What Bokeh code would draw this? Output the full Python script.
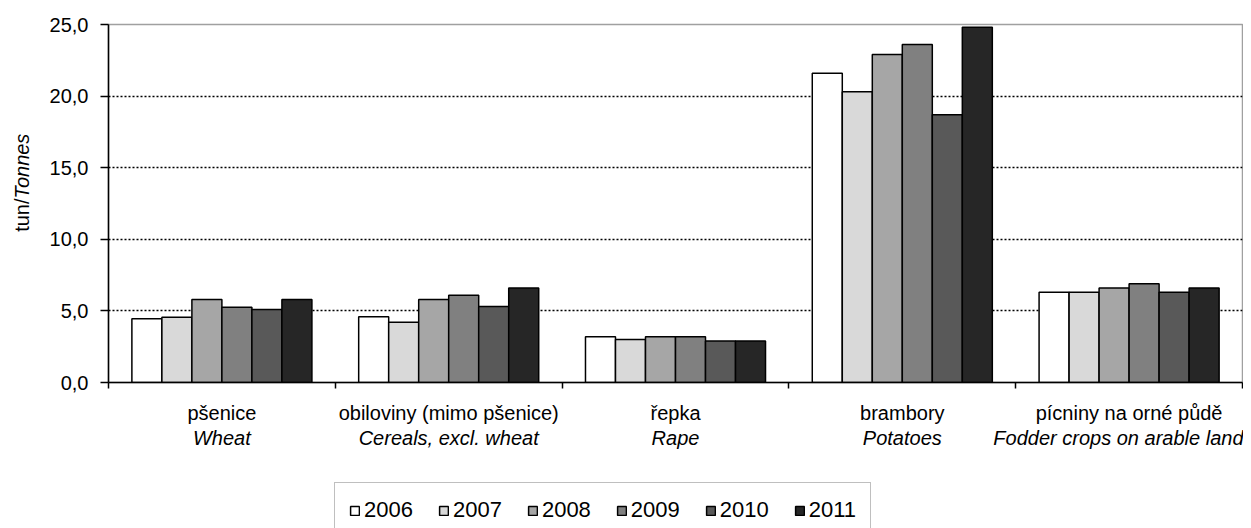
import math
from bokeh.plotting import figure
from bokeh.layouts import row, column
from bokeh.models import (ColumnDataSource, Range1d, FixedTicker, Legend, LinearAxis,
                          LegendItem, CustomJSTickFormatter)
from bokeh.core.properties import value
from bokeh.transform import dodge
from bokeh.embed import file_html
from bokeh.resources import INLINE

# ---- data ----
categories_cz = ["pšenice", "obiloviny (mimo pšenice)", "řepka", "brambory", "pícniny na orné půdě"]
categories_en = ["Wheat", "Cereals, excl. wheat", "Rape", "Potatoes", "Fodder crops on arable land"]
years = ["2006", "2007", "2008", "2009", "2010", "2011"]
y2006 = [4.45, 4.6, 3.2, 21.6, 6.3]
y2007 = [4.55, 4.2, 3.0, 20.3, 6.3]
y2008 = [5.8, 5.8, 3.2, 22.9, 6.6]
y2009 = [5.25, 6.1, 3.2, 23.6, 6.9]
y2010 = [5.1, 5.3, 2.9, 18.7, 6.3]
y2011 = [5.8, 6.6, 2.9, 24.8, 6.6]
y_ticks = [0, 5, 10, 15, 20, 25]
y_label_cz = "tun/"
y_label_en = "Tonnes"

series = [y2006, y2007, y2008, y2009, y2010, y2011]
colors = ["#ffffff", "#d9d9d9", "#a6a6a6", "#808080", "#595959", "#262626"]

FONT = "Liberation Sans"
W = 1243
H1 = 476      # chart row height
H2 = 52       # legend strip height
LW = 40       # width of the strip holding the y title
TOP = 24      # frame top (px)
BOT = 382     # frame bottom (px)
pos = [i + 0.5 for i in range(len(categories_cz))]
data = {"pos": pos}
for yr, s in zip(years, series):
    data["y" + yr] = s
src = ColumnDataSource(data)

# ---- side strip holding the mixed-style y-axis title (frame aligned with chart frame) ----
FH = BOT - TOP
pl = figure(width=LW, height=H1, output_backend="svg", toolbar_location=None,
            x_range=Range1d(0, LW), y_range=Range1d(0, FH),
            min_border_left=0, min_border_right=0, min_border_top=TOP,
            min_border_bottom=H1 - BOT)
pl.axis.visible = False
pl.grid.visible = False
pl.outline_line_color = None
ly = BOT - 198
pl.text(x=[21], y=[ly], text=[y_label_cz], angle=math.pi / 2, text_align="right",
        text_baseline="middle", text_font=value(FONT), text_font_size="20px", text_color="#000000")
pl.text(x=[21], y=[ly], text=[y_label_en], angle=math.pi / 2, text_align="left",
        text_baseline="middle", text_font=value(FONT), text_font_size="20px",
        text_font_style="italic", text_color="#000000")

# ---- main chart ----
p = figure(width=W - LW, height=H1, output_backend="svg", toolbar_location=None,
           x_range=Range1d(0, len(categories_cz)), y_range=Range1d(0, 25),
           min_border_left=108 - LW, min_border_right=1, min_border_top=TOP,
           min_border_bottom=H1 - BOT)

bw = 0.1323
renderers = []
for k, (yr, c) in enumerate(zip(years, colors)):
    r = p.vbar(x=dodge("pos", (k - 2.5) * bw, range=p.x_range), top="y" + yr, width=bw,
               source=src, fill_color=c, line_color="#000000", line_width=1.5)
    renderers.append(r)

# y axis
p.yaxis.ticker = FixedTicker(ticks=y_ticks)
p.yaxis.formatter = CustomJSTickFormatter(code="return tick.toFixed(1).replace('.', ',');")
p.yaxis.major_label_text_font = FONT
p.yaxis.major_label_text_font_size = "20px"
p.yaxis.major_label_text_color = "#000000"
p.yaxis.major_label_standoff = 12
p.yaxis.major_tick_in = 0
p.yaxis.major_tick_out = 8
p.yaxis.minor_tick_out = 0
p.yaxis.minor_tick_in = 0
p.yaxis.axis_line_width = 1.5
p.yaxis.axis_line_color = "#000000"
p.yaxis.major_tick_line_width = 1.5

# x axis: boundary ticks (minor) + Czech labels at centres
ax1 = p.xaxis[0]
ax1.ticker = FixedTicker(ticks=pos, minor_ticks=list(range(len(categories_cz) + 1)))
ax1.formatter = CustomJSTickFormatter(args=dict(labels=categories_cz),
                                      code="return labels[Math.floor(tick)];")
ax1.major_tick_in = 0
ax1.major_tick_out = 0
ax1.minor_tick_in = 0
ax1.minor_tick_out = 6
ax1.minor_tick_line_color = "#000000"
ax1.minor_tick_line_width = 1.5
ax1.axis_line_width = 1.5
ax1.axis_line_color = "#000000"
ax1.major_label_standoff = 13
ax1.major_label_text_font = FONT
ax1.major_label_text_font_size = "20px"
ax1.major_label_text_color = "#000000"

# second row of category labels (English, italic)
ax2 = LinearAxis(ticker=FixedTicker(ticks=pos),
                 formatter=CustomJSTickFormatter(args=dict(labels=categories_en),
                                                 code="return labels[Math.floor(tick)];"))
ax2.axis_line_color = None
ax2.major_tick_line_color = None
ax2.minor_tick_line_color = None
ax2.major_tick_out = 0
ax2.major_tick_in = 0
ax2.major_label_standoff = 0
ax2.major_label_text_font = FONT
ax2.major_label_text_font_size = "20px"
ax2.major_label_text_font_style = "italic"
ax2.major_label_text_color = "#000000"
p.add_layout(ax2, "below")

p.xgrid.grid_line_color = None
p.ygrid.ticker = FixedTicker(ticks=y_ticks[1:])
p.ygrid.grid_line_color = "#000000"
p.ygrid.grid_line_dash = "2 2"
p.ygrid.grid_line_width = 1.3
p.outline_line_color = "#a0a0a0"
p.outline_line_width = 1.5
p.background_fill_color = "#ffffff"
p.border_fill_color = "#ffffff"

# ---- legend strip (hidden copies of the bar series feed the legend swatches) ----
lf = figure(width=W, height=H2, output_backend="svg", toolbar_location=None,
            x_range=Range1d(0, len(categories_cz)), y_range=Range1d(0, 25),
            min_border_left=0, min_border_right=0, min_border_top=0, min_border_bottom=0)
lf.axis.visible = False
lf.grid.visible = False
lf.outline_line_color = None
leg_r = []
for k, (yr, c) in enumerate(zip(years, colors)):
    leg_r.append(lf.vbar(x=dodge("pos", (k - 2.5) * bw, range=lf.x_range), top="y" + yr,
                         width=bw, source=src, fill_color=c, line_color="#000000",
                         line_width=1.5, visible=False))

legend = Legend(items=[LegendItem(label=yr, renderers=[r]) for yr, r in zip(years, leg_r)],
                location=(334, -10), orientation="horizontal")
legend.label_text_font = FONT
legend.label_text_font_size = "22px"
legend.label_text_color = "#000000"
legend.glyph_width = 11
legend.glyph_height = 11
legend.label_standoff = 4
legend.spacing = 25
legend.padding = 14
legend.margin = 0
legend.border_line_color = "#808080"
legend.border_line_width = 1.5
legend.background_fill_alpha = 1.0
legend.inactive_fill_alpha = 0.0
lf.add_layout(legend)

layout = column(row(pl, p, spacing=0), lf, spacing=0)
open("out.html", "w").write(file_html(layout, INLINE))
